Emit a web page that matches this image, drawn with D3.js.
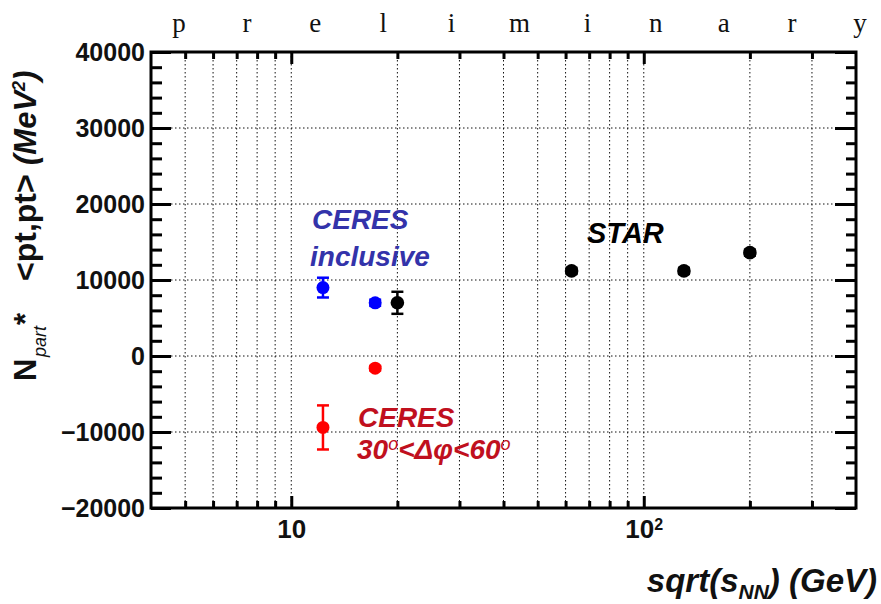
<!DOCTYPE html>
<html><head><meta charset="utf-8">
<script src="https://cdn.jsdelivr.net/npm/d3@7"></script>
<style>
html,body{margin:0;padding:0;background:#fff;}
svg{display:block;}
</style></head>
<body>
<svg id="c" width="881" height="604"></svg>
<script>
// ---- data ----
const ceresInclX = [12.3, 17.3];
const ceresInclY = [9000, 7000];
const ceresInclErr = [1300, 400];

const ceresSelX = [12.3, 17.3];
const ceresSelY = [-9400, -1600];
const ceresSelErr = [2900, 300];

const starX = [20, 62.4, 130, 200];
const starY = [7000, 11200, 11200, 13600];
const starErr = [1450, 400, 400, 400];

const yMajorTicks = [-20000, -10000, 0, 10000, 20000, 30000, 40000];
const yGridTicks = [-10000, 0, 10000, 20000, 30000];
const xMajorTicks = [10, 100];
const xMinorTicks = [5, 6, 7, 8, 9, 20, 30, 40, 50, 60, 70, 80, 90, 200, 300];
const titleLetters = ["p","r","e","l","i","m","i","n","a","r","y"];

// ---- layout ----
const SANS = "'Liberation Sans',Arial,Helvetica,sans-serif";
const SERIF = "'Liberation Serif','Times New Roman',serif";
const L = 151, R = 856, T = 52, B = 508;
const svg = d3.select("#c").style("font-family", SANS);
const x = d3.scaleLog().domain([4, 400]).range([L, R]);
const y = d3.scaleLinear().domain([-20000, 40000]).range([B, T]);

const yMinor = d3.range(-20000, 40001, 2000).filter(v => v % 10000 !== 0);

// grid
const grid = svg.append("g").attr("stroke", "#111").attr("stroke-width", 1).attr("stroke-dasharray", "1.5,2.5");
grid.selectAll("line.v").data(xMinorTicks.concat(xMajorTicks)).enter().append("line")
  .attr("x1", d => x(d)).attr("x2", d => x(d)).attr("y1", T).attr("y2", B);
grid.selectAll("line.h").data(yGridTicks).enter().append("line")
  .attr("x1", L).attr("x2", R).attr("y1", d => y(d)).attr("y2", d => y(d));

// axes
function styleAxis(g){
  g.select(".domain").remove();
  g.selectAll(".tick line").attr("stroke", "#000").attr("stroke-width", 3);
  g.selectAll("text").style("font-family", SANS).attr("font-size", 25).attr("font-weight", "bold").attr("fill", "#111");
}
svg.append("g").attr("transform", `translate(${L},0)`)
  .call(d3.axisLeft(y).tickValues(yMajorTicks).tickSize(-20).tickPadding(6).tickFormat(d3.format("d")))
  .call(styleAxis);
svg.append("g").attr("transform", `translate(${L},0)`)
  .call(d3.axisLeft(y).tickValues(yMinor).tickSize(-11).tickFormat(""))
  .call(styleAxis);
svg.append("g").attr("transform", `translate(${R},0)`)
  .call(d3.axisRight(y).tickValues(yMajorTicks).tickSize(-21).tickFormat(""))
  .call(styleAxis);
svg.append("g").attr("transform", `translate(${R},0)`)
  .call(d3.axisRight(y).tickValues(yMinor).tickSize(-10).tickFormat(""))
  .call(styleAxis);

const xb = svg.append("g").attr("transform", `translate(0,${B})`)
  .call(d3.axisBottom(x).tickValues(xMajorTicks).tickSize(-12).tickPadding(12).tickFormat(() => "10"))
  .call(styleAxis);
xb.selectAll(".tick text").attr("font-size", 26);
xb.selectAll(".tick text").filter(d => d === 100).append("tspan")
  .attr("dy", "-0.55em").attr("font-size", 16).text("2");
svg.append("g").attr("transform", `translate(0,${B})`)
  .call(d3.axisBottom(x).tickValues(xMinorTicks).tickSize(-7).tickFormat(""))
  .call(styleAxis);
svg.append("g").attr("transform", `translate(0,${T})`)
  .call(d3.axisTop(x).tickValues(xMajorTicks).tickSize(-12).tickFormat(""))
  .call(styleAxis);
svg.append("g").attr("transform", `translate(0,${T})`)
  .call(d3.axisTop(x).tickValues(xMinorTicks).tickSize(-7).tickFormat(""))
  .call(styleAxis);

// frame
svg.append("rect").attr("x", L).attr("y", T).attr("width", R - L).attr("height", B - T)
  .attr("fill", "none").attr("stroke", "#000").attr("stroke-width", 3);

// data series
function drawSeries(xs, ys, es, color, r){
  const g = svg.append("g");
  const data = xs.map((v, i) => ({x: v, y: ys[i], e: es[i]}));
  const eb = g.selectAll("g.eb").data(data).enter().append("g")
    .attr("stroke", color).attr("stroke-width", 2.5);
  eb.append("line").attr("x1", d => x(d.x)).attr("x2", d => x(d.x))
    .attr("y1", d => y(d.y + d.e)).attr("y2", d => y(d.y - d.e));
  eb.append("line").attr("x1", d => x(d.x) - 6).attr("x2", d => x(d.x) + 6)
    .attr("y1", d => y(d.y + d.e)).attr("y2", d => y(d.y + d.e));
  eb.append("line").attr("x1", d => x(d.x) - 6).attr("x2", d => x(d.x) + 6)
    .attr("y1", d => y(d.y - d.e)).attr("y2", d => y(d.y - d.e));
  g.selectAll("circle").data(data).enter().append("circle")
    .attr("cx", d => x(d.x)).attr("cy", d => y(d.y)).attr("r", r).attr("fill", color);
}
drawSeries(ceresInclX, ceresInclY, ceresInclErr, "#0000ff", 6.5);
drawSeries(ceresSelX, ceresSelY, ceresSelErr, "#ff0000", 6.5);
drawSeries(starX, starY, starErr, "#000000", 6.8);

// labels
function lbl(xp, yp, txt, color, size){
  return svg.append("text").attr("x", xp).attr("y", yp).attr("fill", color)
    .attr("font-size", size).attr("font-weight", "bold").attr("font-style", "italic").text(txt);
}
lbl(312, 229, "CERES", "#3333aa", 28);
lbl(310, 266, "inclusive", "#3333aa", 28);
lbl(587, 243, "STAR", "#000", 29);
lbl(358, 427, "CERES", "#c0101e", 28);
const t2 = svg.append("text").attr("x", 357).attr("y", 459).attr("fill", "#c0101e")
  .attr("font-size", 28).attr("font-weight", "bold").attr("font-style", "italic");
t2.append("tspan").text("30");
t2.append("tspan").attr("dy", -9).attr("font-size", 18).attr("font-weight", "normal").text("o");
t2.append("tspan").attr("dy", 9).text("<Δφ<60");
t2.append("tspan").attr("dy", -9).attr("font-size", 18).attr("font-weight", "normal").text("o");

// preliminary
const px = d3.scalePoint().domain(d3.range(titleLetters.length)).range([179, 860]);
svg.append("g").selectAll("text").data(titleLetters).enter().append("text")
  .attr("x", (d, i) => px(i)).attr("y", 32).attr("text-anchor", "middle")
  .style("font-family", SERIF).attr("font-size", 27)
  .attr("fill", "#111").text(d => d);

// y title (rotated; local x runs upward from the bottom end)
const yt = svg.append("text").attr("transform", "translate(36,381) rotate(-90)")
  .attr("font-size", 31).attr("font-weight", "bold").attr("fill", "#111");
yt.append("tspan").attr("x", 0).text("N");
yt.append("tspan").attr("x", 24).attr("dy", 10).attr("font-size", 18).attr("font-style", "italic").attr("font-weight", "normal").text("part");
yt.append("tspan").attr("x", 56).attr("dy", -10).text("*");
yt.append("tspan").attr("x", 100).attr("font-size", 32).text("<pt,pt>");
yt.append("tspan").attr("x", 216).attr("font-style", "italic").text("(MeV");
yt.append("tspan").attr("dy", -11).attr("font-size", 18).attr("font-style", "italic").text("2");
yt.append("tspan").attr("dy", 11).attr("font-style", "italic").text(")");

// x title
const xt = svg.append("text").attr("x", 877).attr("y", 592).attr("text-anchor", "end")
  .attr("font-size", 33).attr("font-weight", "bold").attr("font-style", "italic").attr("fill", "#111");
xt.append("tspan").text("sqrt(s");
xt.append("tspan").attr("dy", 7).attr("font-size", 21).text("NN");
xt.append("tspan").attr("dy", -7).text(") (GeV)");
</script>
</body></html>
